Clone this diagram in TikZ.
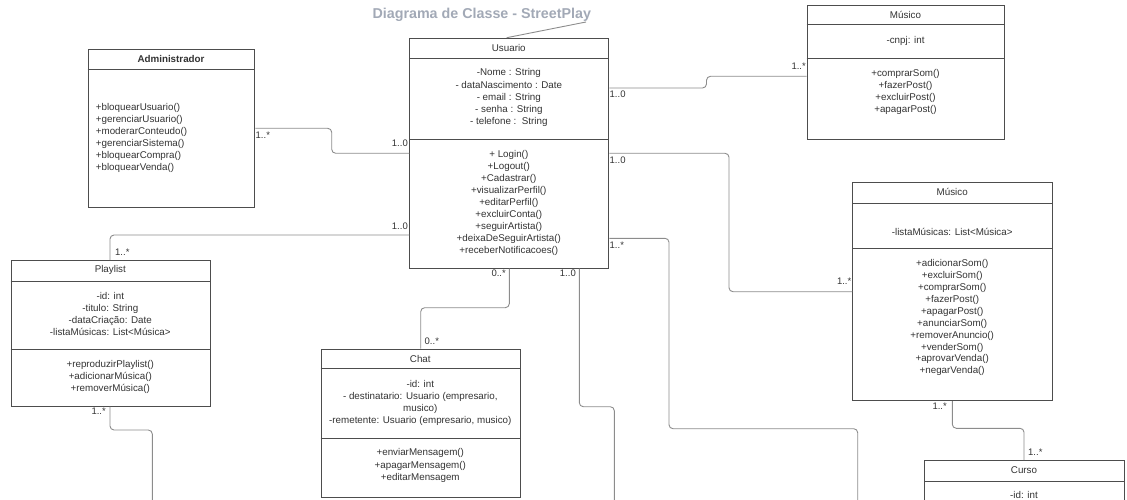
\documentclass[tikz,border=0pt]{standalone}
\usepackage{fontspec}
\setmainfont{Liberation Sans}
\definecolor{boxc}{HTML}{4D4D4D}
\definecolor{linec}{HTML}{8C8C8C}
\definecolor{txtc}{HTML}{333333}
\definecolor{titc}{HTML}{A2A9B6}
\tikzset{
  cls/.style={draw=boxc, line width=1pt, fill=white, inner sep=0pt, anchor=north west},
  sepline/.style={draw=boxc, line width=1pt},
  conn/.style={draw=linec, line width=0.9pt, rounded corners=4pt},
  txt/.style={font=\fontsize{9.8}{12}\selectfont, text=txtc, align=center, inner sep=0pt},
  mult/.style={font=\fontsize{9.5}{11}\selectfont, text=txtc, inner sep=0pt},
}
\begin{document}
\begin{tikzpicture}[x=1pt,y=-1pt]
\useasboundingbox (0,0) rectangle (1127,500);
% title
\node[font=\bfseries\fontsize{14.3}{16}\selectfont, text=titc, inner sep=0pt] (title) at (481.8,15) {Diagrama de Classe - StreetPlay};
\coordinate (tl) at (586,22);

% boxes
\node[cls, minimum width=166.6pt, minimum height=158.3pt] (adm) at (87.7,49) {};
\node[cls, minimum width=199pt, minimum height=230pt] (usu) at (409.3,37.7) {};
\node[cls, minimum width=197.6pt, minimum height=134.3pt] (mus1) at (806.7,4.7) {};
\node[cls, minimum width=199.7pt, minimum height=217.7pt] (mus2) at (852.3,182.3) {};
\node[cls, minimum width=199.3pt, minimum height=145.7pt] (pl) at (10.7,260) {};
\node[cls, minimum width=199.3pt, minimum height=148.3pt] (chat) at (320.7,348.7) {};
\node[cls, minimum width=199.7pt, minimum height=80pt] (cur) at (924.3,460) {};

% dividers
\draw[sepline] (87.7,69.7) -- (254.3,69.7);
\draw[sepline] (409.3,58.3) -- (608.3,58.3);
\draw[sepline] (409.3,139.3) -- (608.3,139.3);
\draw[sepline] (806.7,25) -- (1004.3,25);
\draw[sepline] (806.7,58.3) -- (1004.3,58.3);
\draw[sepline] (852.3,203.3) -- (1052,203.3);
\draw[sepline] (852.3,248.3) -- (1052,248.3);
\draw[sepline] (10.7,281) -- (210,281);
\draw[sepline] (10.7,349.3) -- (210,349.3);
\draw[sepline] (320.7,368.7) -- (520,368.7);
\draw[sepline] (320.7,438.3) -- (520,438.3);
\draw[sepline] (924.3,481.5) -- (1124,481.5);

% title line
\draw[linec, line width=0.9pt] (usu.north -| 506.7,0) -- (tl);

% texts: Administrador
\node[txt, font=\bfseries\fontsize{9.8}{12}\selectfont] (admh) at (171,59.4) {Administrador};
\node[txt, align=left, anchor=west] (admm) at (95.7,137.5) {+bloquearUsuario()\\+gerenciarUsuario()\\+moderarConteudo()\\+gerenciarSistema()\\+bloquearCompra()\\+bloquearVenda()};

% Usuario
\node[txt] (usuh) at (508.8,47.5) {Usuario};
\node[txt, font=\fontsize{9.8}{12.2}\selectfont] (usua) at (508.8,97.7) {-Nome : String\\- dataNascimento : Date\\- email : String\\- senha : String\\- telefone :\ \ String};
\node[txt] (usum) at (508.8,202.5) {+ Login()\\+Logout()\\+Cadastrar()\\+visualizarPerfil()\\+editarPerfil()\\+excluirConta()\\+seguirArtista()\\+deixaDeSeguirArtista()\\+receberNotificacoes()};

% Musico 1
\node[txt] (mus1h) at (905.5,14.5) {Músico};
\node[txt] (mus1a) at (905.5,41) {-cnpj: int};
\node[txt] (mus1m) at (905.5,91.7) {+comprarSom()\\+fazerPost()\\+excluirPost()\\+apagarPost()};

% Musico 2
\node[txt] (mus2h) at (952.2,192.3) {Músico};
\node[txt] (mus2a) at (952.2,231.7) {-listaMúsicas: List<Música>};
\node[txt, font=\fontsize{9.8}{11.9}\selectfont] (mus2m) at (952.2,317.8) {+adicionarSom()\\+excluirSom()\\+comprarSom()\\+fazerPost()\\+apagarPost()\\+anunciarSom()\\+removerAnuncio()\\+venderSom()\\+aprovarVenda()\\+negarVenda()};

% Playlist
\node[txt] (plh) at (110.3,270) {Playlist};
\node[txt] (pla) at (110.3,314.2) {-id: int\\-titulo: String\\-dataCriação: Date\\-listaMúsicas: List<Música>};
\node[txt] (plm) at (110.3,377) {+reproduzirPlaylist()\\+adicionarMúsica()\\+removerMúsica()};

% Chat
\node[txt] (chath) at (420.3,358.7) {Chat};
\node[txt] (chata) at (420.3,403) {-id: int\\- destinatario: Usuario (empresario,\\musico)\\-remetente: Usuario (empresario, musico)};
\node[txt, font=\fontsize{9.8}{12.3}\selectfont] (chatm) at (420.3,465.7) {+enviarMensagem()\\+apagarMensagem()\\+editarMensagem};

% Curso
\node[txt] (curh) at (1024,470.5) {Curso};
\node[txt] (cura) at (1024,495) {-id: int};

% connectors
\draw[conn] (adm.east |- 0,128.3) -- (331.7,128.3) -- (331.7,153.3) -- (usu.west |- 0,153.3);
\draw[conn] (usu.east |- 0,88) -- (706.5,88) -- (706.5,76.3) -- (mus1.west |- 0,76.3);
\draw[conn] (usu.east |- 0,153.3) -- (729,153.3) -- (729,291.7) -- (mus2.west |- 0,291.7);
\coordinate (e1) at (857.7,505);
\draw[conn] (usu.east |- 0,238.3) -- (669,238.3) -- (669,428.7) -- (857.7,428.7) -- (e1);
\draw[conn] (usu.west |- 0,235) -- (110,235) -- (pl.north -| 110,0);
\coordinate (e2) at (152.3,505);
\draw[conn] (pl.south -| 110,0) -- (110,430) -- (152.3,430) -- (e2);
\draw[conn] (usu.south -| 509.3,0) -- (509.3,307.7) -- (420.7,307.7) -- (chat.north -| 420.7,0);
\coordinate (e3) at (614.3,505);
\draw[conn] (usu.south -| 579.3,0) -- (579.3,406.7) -- (614.3,406.7) -- (e3);
\draw[conn] (mus2.south -| 952.3,0) -- (952.3,428.3) -- (1024,428.3) -- (cur.north -| 1024,0);

% multiplicities
\node[mult, anchor=west] (m1) at (255.5,135) {1..*};
\node[mult, anchor=east] (m2) at (408,143.7) {1..0};
\node[mult, anchor=east] (m3) at (408,226.7) {1..0};
\node[mult, anchor=west] (m4) at (115,252.3) {1..*};
\node[mult, anchor=east] (m5) at (106,411) {1..*};
\node[mult, anchor=west] (m6) at (609.5,94.3) {1..0};
\node[mult, anchor=west] (m7) at (609.5,160) {1..0};
\node[mult, anchor=west] (m8) at (609.5,245.7) {1..*};
\node[mult, anchor=east] (m9) at (806,66.7) {1..*};
\node[mult, anchor=east] (m10) at (851.5,281.7) {1..*};
\node[mult, anchor=east] (m11) at (506,273.3) {0..*};
\node[mult, anchor=east] (m12) at (576,273.3) {1..0};
\node[mult, anchor=west] (m13) at (424.5,341) {0..*};
\node[mult, anchor=east] (m14) at (947,406) {1..*};
\node[mult, anchor=west] (m15) at (1028,452.7) {1..*};
\end{tikzpicture}
\end{document}
